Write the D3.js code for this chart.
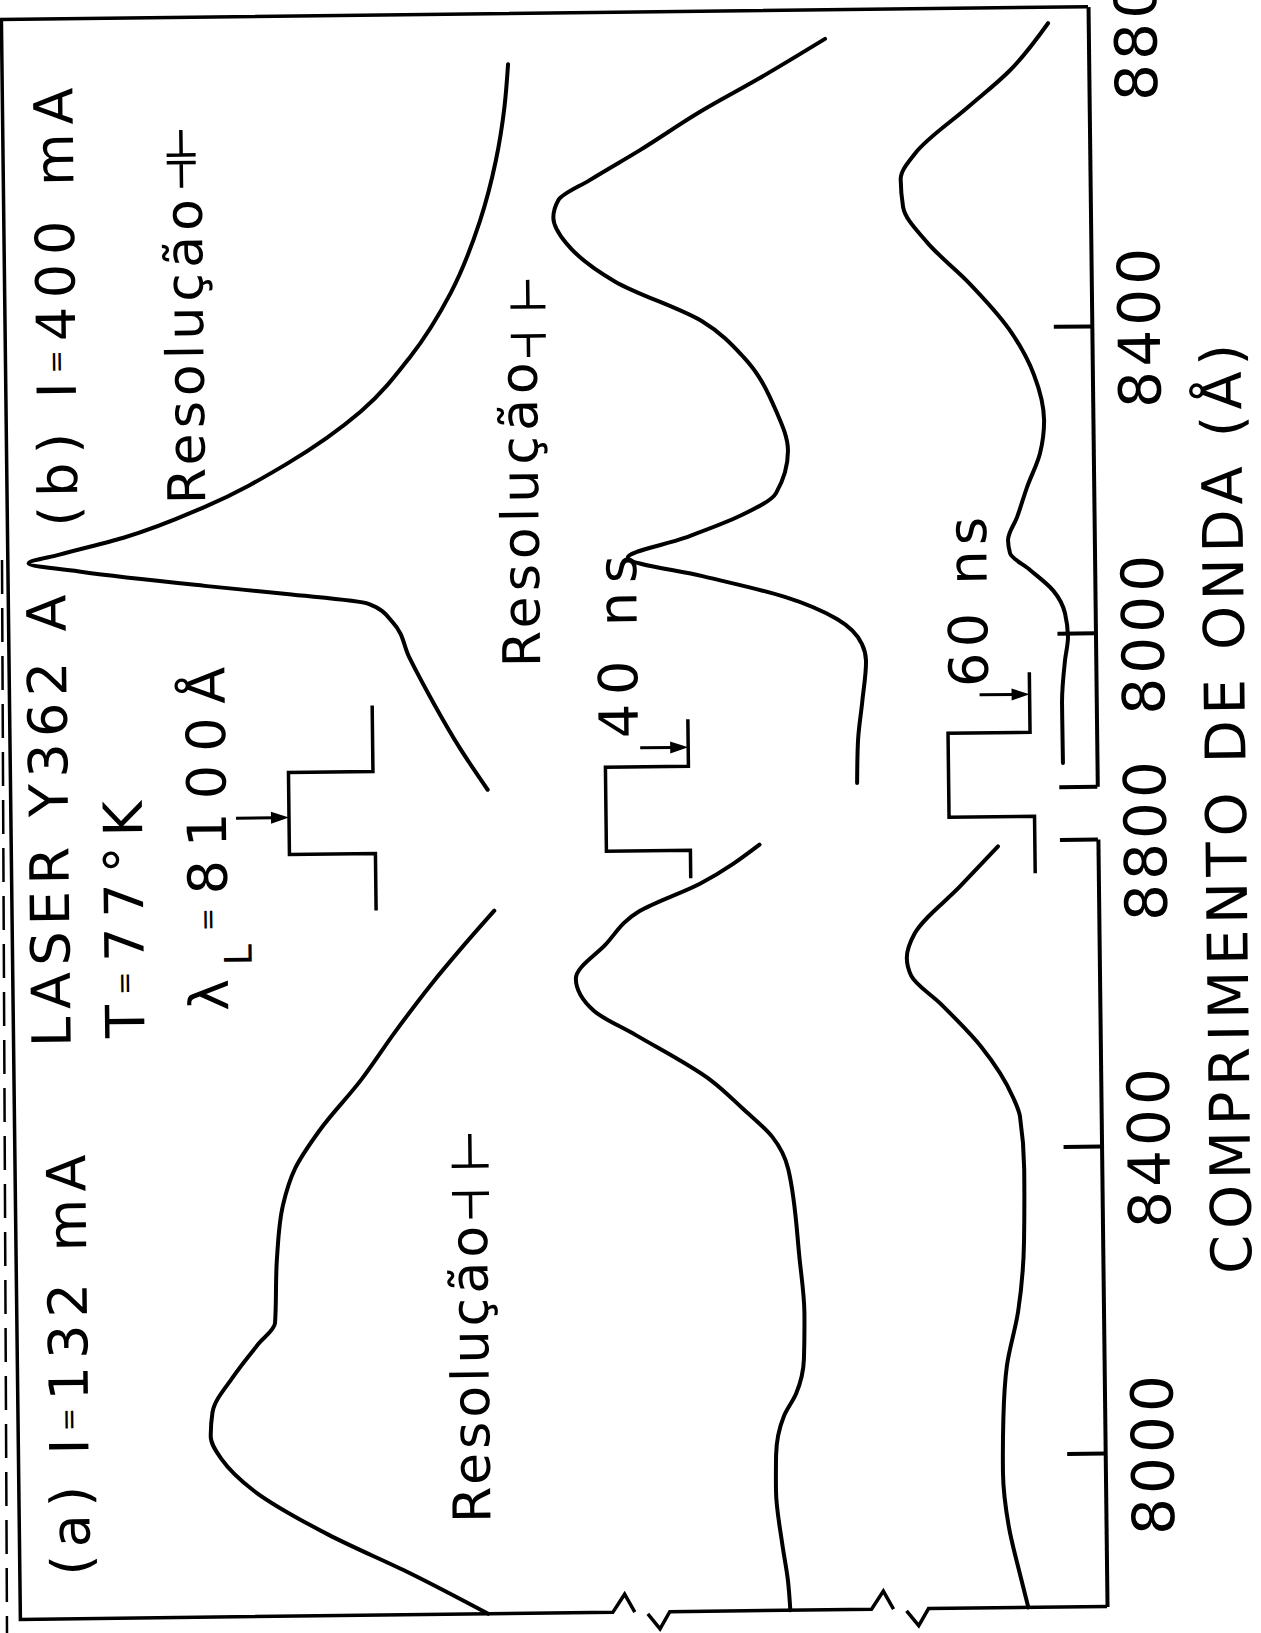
<!DOCTYPE html>
<meta charset="utf-8">
<svg width="1261" height="1633"></svg>
<script src="https://d3js.org/d3.v7.min.js"></script>
<style>
  body { margin: 0; background: #fff; }
  text { font-family: 'DejaVu Sans', 'Liberation Sans', sans-serif; fill: #000; }
</style>
<script>
// panel (b) I = 400 mA : wavelength (A) and intensity (a.u., above each trace's own zero)
var wlB1  = [8750, 8694, 8624, 8546, 8453, 8370, 8300, 8233, 8178, 8139, 8118, 8107, 8095, 8075, 8063, 8049, 8025, 7978, 7918, 7861, 7805];
var intB1 = [11.1, 11.5, 12.4, 14.0, 16.9, 20.9, 25.7, 32.9, 40.9, 48.8, 55.0, 58.0, 52.8, 41.0, 33.1, 25.2, 22.9, 21.3, 19.0, 16.6, 13.9];
var wlB2  = [8778, 8728, 8685, 8636, 8598, 8572, 8549, 8516, 8465, 8412, 8365, 8294, 8243, 8187, 8158, 8130, 8105, 8080, 8052, 8022, 7989, 7967, 7915, 7864, 7808];
var intB2 = [5.45, 11.8, 17.6, 23.45, 28.3, 31.4, 31.9, 30.7, 26.0, 17.65, 13.7, 10.6, 9.5, 10.7, 14.2, 19.6, 25.1, 17.9, 10.05, 4.96, 2.57, 2.2, 2.6, 3.06, 3.2];
var wlB3  = [8795, 8733, 8687, 8627, 8594, 8558, 8511, 8459, 8397, 8337, 8278, 8235, 8191, 8152, 8122, 8105, 8083, 8056, 8026, 7995, 7965, 7909, 7831];
var intB3 = [3.88, 7.7, 11.7, 16.9, 18.3, 18.1, 15.8, 11.9, 8.0, 5.64, 4.72, 5.15, 6.44, 7.44, 8.34, 8.16, 6.25, 4.05, 2.92, 2.66, 2.97, 3.31, 3.29];

// panel (a) I = 132 mA
var wlA1  = [8716, 8668, 8619, 8560, 8497, 8433, 8383, 8336, 8266, 8182, 8155, 8114, 8067, 8035, 8006, 7964, 7906, 7854, 7800];
var intA1 = [13.4, 16.6, 19.7, 23.1, 26.5, 30.5, 32.95, 34.15, 34.8, 35.06, 36.7, 39.1, 41.2, 41.4, 40.4, 37.3, 30.2, 22.3, 14.8];
var wlA2  = [8798, 8748, 8713, 8670, 8626, 8584, 8552, 8492, 8454, 8417, 8375, 8257, 8188, 8127, 8082, 8053, 8002, 7956, 7886, 7839, 7800];
var intA2 = [12.7, 18.5, 24.4, 27.7, 30.6, 28.9, 24.9, 17.7, 14.6, 11.8, 10.3, 9.3, 8.9, 9.0, 9.8, 11.0, 11.8, 11.85, 11.3, 10.8, 10.6];
var wlA3  = [8792, 8740, 8680, 8648, 8625, 8588, 8531, 8465, 8440, 8371, 8277, 8185, 8115, 8046, 7976, 7906, 7845, 7800];
var intA3 = [9.66, 13.4, 17.8, 18.6, 18.2, 15.4, 11.5, 8.5, 7.85, 7.5, 7.6, 8.26, 9.4, 9.8, 9.9, 9.4, 8.4, 7.6];

var offsets = [45, 20, 0];           // vertical shift of the three traces
var tickValsA = [8000, 8400, 8800];
var tickValsB = [7800, 8000, 8400, 8800];
var resolution = [10, 38, 36];       // A, width of the resolution marks

var svg = d3.select("svg");
svg.append("rect").attr("width", 1261).attr("height", 1633).attr("fill", "#fff");

// edge of the copied page
svg.append("line").attr("x1", 2).attr("y1", 560).attr("x2", 7).attr("y2", 1633)
    .attr("stroke", "#000").attr("stroke-width", 2.5).attr("stroke-dasharray", "34,14");

// the whole sheet sits slightly tilted
var g = svg.append("g").attr("transform", "rotate(-0.68,630,816)");

var x = d3.scaleLinear().domain([0, 105]).range([1097.6, 10.9]);
var yA = d3.scaleLinear().domain([7800, 8800]).range([1612.1, 844.6]);
var yB = d3.scaleLinear().domain([7800, 8800]).range([791.9, 24.4]);
var yBax = yB.copy().domain([7800, 8816]).range([yB(7800), yB(8816)]);

function trace(yScale, wl, val, off) {
  var pts = wl.map(function(w, i) { return [w, val[i]]; });
  g.append("path").datum(pts)
      .attr("fill", "none").attr("stroke", "#000").attr("stroke-width", 4)
      .attr("stroke-linecap", "round").attr("stroke-linejoin", "round")
      .attr("d", d3.line()
        .x(function(d) { return x(d[1] + off); })
        .y(function(d) { return yScale(d[0]); })
        .curve(d3.curveMonotoneY));
}

trace(yB, wlB1, intB1, offsets[0]);
trace(yB, wlB2, intB2, offsets[1]);
trace(yB, wlB3, intB3, offsets[2]);
trace(yA, wlA1, intA1, offsets[0]);
trace(yA, wlA2, intA2, offsets[1]);
trace(yA, wlA3, intA3, offsets[2]);

// frame: top, left and the broken intensity axis at the bottom
var yTop = yBax(8816), yBot = yA(7800), xLeft = x(105), xRight = x(0);
function zig(c) {
  return " L" + (c - 28.5) + "," + yBot + " L" + (c - 16.5) + "," + (yBot - 18) + " L" + (c - 6.5) + "," + yBot +
         " M" + (c + 6.5) + "," + (yBot + 2) + " L" + (c + 18.5) + "," + (yBot + 17) + " L" + (c + 28.5) + "," + yBot;
}
g.append("path")
    .attr("d", "M" + xRight + "," + yTop + " H" + (xLeft - 6) + " M" + xLeft + "," + yTop + " V" + yBot +
               zig(x(offsets[0])) + zig(x(offsets[1])) + " L" + xRight + "," + yBot)
    .attr("fill", "none").attr("stroke", "#000").attr("stroke-width", 3.5).attr("stroke-linejoin", "miter");

function styleAxis(sel) {
  sel.attr("font-size", null).attr("font-family", null);
  sel.select(".domain").attr("stroke-width", 4);
  sel.selectAll(".tick line").attr("stroke-width", 4);
  sel.selectAll(".tick text")
      .attr("transform", "rotate(-90)").attr("x", 0).attr("y", 68).attr("dy", 0)
      .attr("text-anchor", "middle").style("font-size", "58px")
      .each(function() {
        var w = this.getComputedTextLength();
        d3.select(this).attr("letter-spacing", ((160 - w) / 3).toFixed(2));
      });
}

var axA = g.append("g").attr("transform", "translate(" + xRight + ",0)")
    .call(d3.axisRight(yA).tickValues(tickValsA).tickSizeInner(-38).tickSizeOuter(0).tickFormat(d3.format("d")));
styleAxis(axA);

var axB = g.append("g").attr("transform", "translate(" + xRight + ",0)")
    .call(d3.axisRight(yBax).tickValues(tickValsB).tickSizeInner(-38).tickSizeOuter(0).tickFormat(d3.format("d")));
styleAxis(axB);
axB.selectAll(".tick").filter(function(d) { return d === 7800; }).select("text").remove();
axB.selectAll(".tick").filter(function(d) { return d === 8800; }).select("line").remove();

// vertical text reading upwards; bx = baseline, sy = start
function vtext(bx, sy, len, size, parts) {
  var t = g.append("text").attr("transform", "translate(" + bx + "," + sy + ") rotate(-90)")
      .style("font-size", size + "px");
  parts.forEach(function(p) {
    var s = t.append("tspan").text(p[0]);
    if (p[1]) s.style("font-size", p[1] + "px");
    if (p[2]) s.attr("dy", p[2]);
  });
  var n = t.text().length, w = t.node().getComputedTextLength();
  t.attr("letter-spacing", ((len - w) / (n - 1)).toFixed(2));
  return t;
}

vtext(81, 1569, 421, 54, [["(a) I"], ["=", 28, -10], ["132 mA", null, 10]]);
vtext(81, 520, 439, 54, [["(b) I"], ["=", 28, -10], ["400 mA", null, 10]]);
vtext(68, 1040, 452, 54, [["LASER Y362 A"]]);
vtext(142, 1032, 237, 54, [["T"], ["=", 28, -10], ["77°K", null, 10]]);
vtext(226, 1006, 344, 54, [["λ"], ["L", 38, 24], ["=", 28, -34], ["8100Å", null, 10]]);
vtext(209, 499, 305, 52, [["Resolução"]]);
vtext(542, 666, 305, 52, [["Resolução"]]);
vtext(482, 1521, 297, 52, [["Resolução"]]);
vtext(639, 738, 183, 54, [["40 ns"]]);
vtext(989.5, 691, 170, 54, [["60 ns"]]);
vtext(1246, 1281, 930, 56, [["COMPRIMENTO DE ONDA (Å)"]]);

// resolution marks  -|  |-
var pxPerA = yA(8000) - yA(8001);
function resMark(cx, yBar, gapA, armTop, armBot, half) {
  var y2 = yBar + gapA * pxPerA;
  g.append("path")
      .attr("d", "M" + cx + "," + (yBar - armTop) + " V" + yBar + " M" + (cx - half) + "," + yBar + " H" + (cx + half) +
                 " M" + (cx - half) + "," + y2 + " H" + (cx + half) + " M" + cx + "," + y2 + " V" + (y2 + armBot))
      .attr("fill", "none").attr("stroke", "#000").attr("stroke-width", 3.5);
}
resMark(189, 149.7, resolution[0], 25, 25, 14.5);
resMark(534, 305.7, resolution[1], 27, 21, 17.5);
resMark(466, 1164, resolution[2], 32, 25, 18.5);

// gate pulses with arrows
function pulse(base, baseLow, high, y0, y1, y2, y3, ay, ax0) {
  g.append("path")
      .attr("d", "M" + base + "," + y0 + " V" + y1 + " H" + high + " V" + y2 + " H" + baseLow + " V" + y3)
      .attr("fill", "none").attr("stroke", "#000").attr("stroke-width", 3.5);
  var tip = (ay > y1 && ay < y2) ? high : base;
  g.append("line").attr("x1", ax0).attr("y1", ay).attr("x2", tip - 14).attr("y2", ay)
      .attr("stroke", "#000").attr("stroke-width", 3);
  g.append("path").attr("d", "M" + tip + "," + ay + " L" + (tip - 18) + "," + (ay - 6) + " L" + (tip - 18) + "," + (ay + 6) + "Z")
      .attr("fill", "#000");
}
pulse(373.5, 375, 289, 702.5, 768.5, 850.5, 907.5, 813.5, 236);
pulse(689, 690, 606, 720, 767, 851, 879, 748, 641);
pulse(1031, 1034.5, 949, 677, 737, 821, 878, 699, 981);
</script>
